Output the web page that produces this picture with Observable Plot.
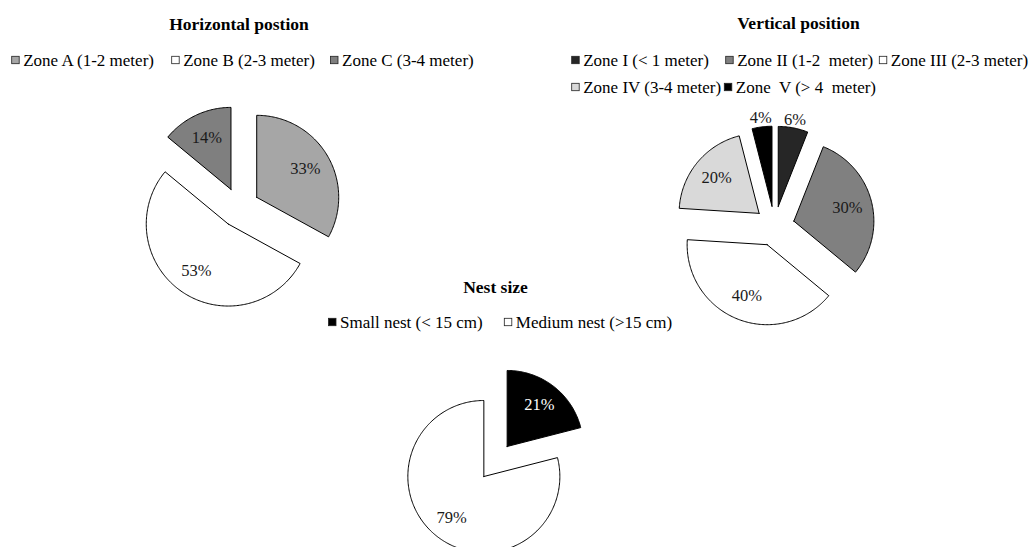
<!DOCTYPE html>
<html><head><meta charset="utf-8">
<script src="https://cdn.jsdelivr.net/npm/d3@7"></script>
<script src="https://cdn.jsdelivr.net/npm/@observablehq/plot@0.6"></script>
<style>
html,body{margin:0;padding:0;background:#fff;overflow:hidden;}
</style>
</head><body><div id="chart"></div>
<script>
// ---- data ----
const hTitle = "Horizontal postion";
const hCats = ["Zone A (1-2 meter)", "Zone B (2-3 meter)", "Zone C (3-4 meter)"];
const hVals = [33, 53, 14];

const vTitle = "Vertical position";
const vCats = ["Zone I (< 1 meter)", "Zone II (1-2  meter)", "Zone III (2-3 meter)", "Zone IV (3-4 meter)", "Zone  V (> 4  meter)"];
const vVals = [6, 30, 40, 20, 4];

const nTitle = "Nest size";
const nCats = ["Small nest (< 15 cm)", "Medium nest (>15 cm)"];
const nVals = [21, 79];

// ---- styles ----
const hColors = ["#a6a6a6", "#ffffff", "#7f7f7f"];
const vColors = ["#262626", "#808080", "#ffffff", "#d9d9d9", "#000000"];
const nColors = ["#000000", "#ffffff"];

// ---- layout (pixels) ----
const W = 1032, H = 547;
const pies = [
  {title: hTitle, cats: hCats, vals: hVals, colors: hColors, cx: 239, cy: 207, r: 82, explode: 20,
   tx: 238.5, ty: 24, legend: [[11.7, 60], [171.7, 60], [330.5, 60]]},
  {title: vTitle, cats: vCats, vals: vVals, colors: vColors, cx: 774, cy: 225.6, r: 80, explode: 20,
   tx: 798, ty: 23, legend: [[571.7, 60], [725.7, 60], [879.3, 60], [571.7, 87], [724.3, 87]]},
  {title: nTitle, cats: nCats, vals: nVals, colors: nColors, cx: 495, cy: 461, r: 76, explode: 19,
   tx: 495, ty: 287, legend: [[328.5, 322], [504.3, 322]]}
];

const slicePts = [], labels = [], titles = [], legendBoxes = [], legendTexts = [];
const allCats = [], allColors = [];
pies.forEach((p, pi) => {
  p.cats.forEach((c, i) => { allCats.push(c); allColors.push(p.colors[i]); });
  const arcs = d3.pie().sort(null).value(d => d.v)(p.cats.map((c, i) => ({c, v: p.vals[i]})));
  const total = d3.sum(p.vals);
  arcs.forEach((a, i) => {
    const mid = (a.startAngle + a.endAngle) / 2;
    const ox = p.cx + p.explode * Math.sin(mid), oy = p.cy - p.explode * Math.cos(mid);
    const key = pi + "-" + i;
    slicePts.push({key, cat: a.data.c, x: ox, y: oy});
    const n = Math.max(8, Math.ceil((a.endAngle - a.startAngle) * 60));
    for (let k = 0; k <= n; k++) {
      const t = a.startAngle + (a.endAngle - a.startAngle) * k / n;
      slicePts.push({key, cat: a.data.c, x: ox + p.r * Math.sin(t), y: oy - p.r * Math.cos(t)});
    }
    slicePts.push({key, cat: a.data.c, x: ox, y: oy});
    const frac = a.data.v / total;
    const outside = frac < 0.1;
    const k = outside ? 1.11 : 0.69;
    const col = p.colors[i];
    const dark = d3.hsl(col).l < 0.3;
    labels.push({
      x: ox + k * p.r * Math.sin(mid), y: oy - k * p.r * Math.cos(mid),
      text: Math.round(frac * 100) + "%",
      color: (!outside && dark) ? "#ffffff" : "#1a1a1a"
    });
  });
  titles.push({x: p.tx, y: p.ty, text: p.title});
  p.legend.forEach(([lx, ly], i) => {
    legendBoxes.push({cat: p.cats[i], x1: lx, x2: lx + 7.5, y1: ly - 3.7, y2: ly + 3.7});
    legendTexts.push({x: lx + 11, y: ly, text: p.cats[i]});
  });
});

const plot = Plot.plot({
  width: W, height: H,
  margin: 0,
  x: {domain: [0, W], range: [0, W], axis: null},
  y: {domain: [0, H], range: [0, H], axis: null},
  color: {domain: allCats, range: allColors},
  style: {fontFamily: "'Liberation Serif', 'Times New Roman', serif", background: "#fff", color: "#000", overflow: "hidden"},
  marks: [
    Plot.line(slicePts, {x: "x", y: "y", z: "key", fill: "cat", stroke: "#000", strokeWidth: 1, curve: "linear-closed"}),
    Plot.text(labels, {x: "x", y: "y", text: "text", fill: d => d.color, fontSize: 16.5}),
    Plot.text(titles, {x: "x", y: "y", text: "text", fontSize: 17.5, fontWeight: "bold", fill: "#000"}),
    Plot.rect(legendBoxes, {x1: "x1", x2: "x2", y1: "y1", y2: "y2", fill: "cat", stroke: "#222", strokeWidth: 0.8}),
    Plot.text(legendTexts, {x: "x", y: "y", text: "text", textAnchor: "start", fontSize: 17, fill: "#000"})
  ]
});
document.getElementById("chart").appendChild(plot);
</script>
</body></html>
